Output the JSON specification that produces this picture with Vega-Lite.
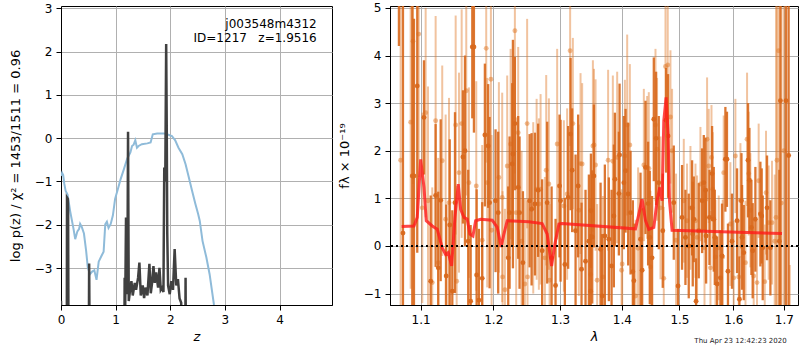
{
"$schema": "https://vega.github.io/schema/vega-lite/v6.json",
"background": "white",
"padding": {"left": 8, "top": 1, "right": 0, "bottom": 0},
"bounds": "flush",
"spacing": 58,
"config": {
  "font": "DejaVu Sans",
  "view": {"stroke": "black", "strokeWidth": 1},
  "axis": {"labelFont": "DejaVu Sans", "labelFontSize": 12, "labelColor": "black", "titleFont": "DejaVu Sans", "titleFontSize": 13, "titleFontWeight": "normal", "titleColor": "black", "domainColor": "black", "tickColor": "black", "tickSize": 5, "labelPadding": 4, "grid": true, "gridColor": "#b0b0b0", "gridWidth": 1, "labelFlush": false, "labelOverlap": false, "zindex": 1}
},
"datasets": {
  "blue": [
    {"z":0,"y":-0.87},{"z":0.02,"y":-0.8},{"z":0.04,"y":-0.85},{"z":0.06,"y":-1.05},{"z":0.085,"y":-1.22},{"z":0.12,"y":-1.3},{"z":0.17,"y":-1.7},{"z":0.23,"y":-2.1},{"z":0.26,"y":-2.33},{"z":0.3,"y":-2.15},{"z":0.33,"y":-2.1},{"z":0.35,"y":-1.98},{"z":0.38,"y":-2.05},{"z":0.42,"y":-2.2},{"z":0.46,"y":-2.6},{"z":0.49,"y":-2.98},{"z":0.53,"y":-3.14},{"z":0.57,"y":-3.08},{"z":0.61,"y":-3.05},{"z":0.65,"y":-3.27},{"z":0.69,"y":-2.85},{"z":0.74,"y":-2.72},{"z":0.78,"y":-2.62},{"z":0.81,"y":-1.99},{"z":0.84,"y":-1.93},{"z":0.87,"y":-2.07},{"z":0.91,"y":-1.98},{"z":0.95,"y":-1.78},{"z":0.99,"y":-1.4},{"z":1.04,"y":-1.18},{"z":1.09,"y":-0.95},{"z":1.15,"y":-0.72},{"z":1.21,"y":-0.48},{"z":1.27,"y":-0.33},{"z":1.3,"y":-0.18},{"z":1.33,"y":-0.15},{"z":1.36,"y":-0.05},{"z":1.39,"y":-0.22},{"z":1.42,"y":-0.18},{"z":1.48,"y":-0.14},{"z":1.58,"y":-0.12},{"z":1.64,"y":-0.1},{"z":1.68,"y":0.09},{"z":1.76,"y":0.11},{"z":1.88,"y":0.11},{"z":1.94,"y":0.09},{"z":2.03,"y":0.05},{"z":2.09,"y":-0.05},{"z":2.15,"y":-0.22},{"z":2.22,"y":-0.37},{"z":2.28,"y":-0.6},{"z":2.34,"y":-0.91},{"z":2.4,"y":-1.22},{"z":2.46,"y":-1.52},{"z":2.51,"y":-1.75},{"z":2.54,"y":-1.91},{"z":2.59,"y":-2.37},{"z":2.66,"y":-2.75},{"z":2.72,"y":-3.14},{"z":2.8,"y":-3.85},{"z":2.9,"y":-4.6}
  ],
  "dark": [
    {"z":0,"y":-3.75},{"z":0.015,"y":-6},{"z":0.105,"y":-6},{"z":0.11,"y":-1.37},{"z":0.125,"y":-1.4},{"z":0.13,"y":-1.6},{"z":0.14,"y":-6},{"z":0.505,"y":-6},{"z":0.515,"y":-2.89},{"z":0.53,"y":-6},{"z":1.155,"y":-6},{"z":1.165,"y":-3.22},{"z":1.175,"y":-3.9},{"z":1.19,"y":-1.83},{"z":1.2,"y":-3.6},{"z":1.215,"y":-3.4},{"z":1.227,"y":0.15},{"z":1.24,"y":-3.76},{"z":1.265,"y":-3.5},{"z":1.289,"y":-3.3},{"z":1.313,"y":-3.63},{"z":1.35,"y":-3.34},{"z":1.374,"y":-3.5},{"z":1.411,"y":-3.22},{"z":1.435,"y":-2.87},{"z":1.46,"y":-3.63},{"z":1.496,"y":-3.4},{"z":1.521,"y":-3.69},{"z":1.545,"y":-3.45},{"z":1.582,"y":-3.63},{"z":1.618,"y":-2.9},{"z":1.643,"y":-3.58},{"z":1.667,"y":-3.34},{"z":1.692,"y":-2.95},{"z":1.716,"y":-3.34},{"z":1.741,"y":-3.1},{"z":1.777,"y":-3.45},{"z":1.802,"y":-2.99},{"z":1.826,"y":-3.5},{"z":1.85,"y":-3.45},{"z":1.875,"y":-3.55},{"z":1.89,"y":-0.68},{"z":1.9,"y":-1.0},{"z":1.91,"y":-0.7},{"z":1.925,"y":2.17},{"z":1.935,"y":0.3},{"z":1.945,"y":-2.2},{"z":1.96,"y":-3.4},{"z":1.99,"y":-3.6},{"z":2.02,"y":-3.3},{"z":2.05,"y":-3.5},{"z":2.08,"y":-2.56},{"z":2.11,"y":-3.4},{"z":2.14,"y":-3.25},{"z":2.17,"y":-3.7},{"z":2.2,"y":-3.8},{"z":2.215,"y":-6},{"z":2.27,"y":-6},{"z":2.28,"y":-3.22},{"z":2.29,"y":-6},{"z":4.96,"y":-6}
  ],
  "dk": [
    {"x":1.0717,"y":6.5,"lo":4.2,"hi":8.8},{"x":1.0769,"y":0.27,"lo":-4.53,"hi":5.07},{"x":1.089,"y":1.47,"lo":-2.33,"hi":5.27},{"x":1.0912,"y":1.47,"lo":-1.83,"hi":4.77},{"x":1.0955,"y":3.36,"lo":-0.14,"hi":6.86},{"x":1.1044,"y":2.7,"lo":1.5,"hi":3.9},{"x":1.1133,"y":-0.74,"lo":-2.54,"hi":1.06},{"x":1.1199,"y":1.06,"lo":-0.44,"hi":2.56},{"x":1.1234,"y":-0.46,"lo":-2.06,"hi":1.14},{"x":1.1267,"y":0.96,"lo":-0.74,"hi":2.66},{"x":1.1342,"y":-0.63,"lo":-2.13,"hi":0.87},{"x":1.139,"y":0.44,"lo":-1.36,"hi":2.24},{"x":1.1425,"y":-0.95,"lo":-2.65,"hi":0.75},{"x":1.1462,"y":0.91,"lo":-0.99,"hi":2.81},{"x":1.1572,"y":1.87,"lo":0.47,"hi":3.27},{"x":1.16,"y":2.0,"lo":0,"hi":4.0},{"x":1.1645,"y":0.1,"lo":-1.4,"hi":1.6},{"x":1.1679,"y":-1.16,"lo":-2.76,"hi":0.44},{"x":1.1702,"y":4.18,"lo":2.68,"hi":5.68},{"x":1.1725,"y":4.18,"lo":2.38,"hi":5.98},{"x":1.1763,"y":-0.61,"lo":-2.41,"hi":1.19},{"x":1.1795,"y":-1.14,"lo":-2.64,"hi":0.36},{"x":1.1842,"y":-0.68,"lo":-2.28,"hi":0.92},{"x":1.188,"y":2.33,"lo":0.83,"hi":3.83},{"x":1.1927,"y":2.1,"lo":0.8,"hi":3.4},{"x":1.1947,"y":0.91,"lo":-0.89,"hi":2.71},{"x":1.2033,"y":0.95,"lo":-0.55,"hi":2.45},{"x":1.2071,"y":0.7,"lo":-1.0,"hi":2.4},{"x":1.2217,"y":-0.25,"lo":-1.75,"hi":1.25},{"x":1.2237,"y":0.7,"lo":-0.9,"hi":2.3},{"x":1.2276,"y":1.72,"lo":0.02,"hi":3.42},{"x":1.2286,"y":1.93,"lo":-0.47,"hi":4.33},{"x":1.2315,"y":2.57,"lo":1.17,"hi":3.97},{"x":1.2364,"y":1.23,"lo":-0.27,"hi":2.73},{"x":1.2384,"y":0.7,"lo":-0.9,"hi":2.3},{"x":1.2434,"y":-0.35,"lo":-1.85,"hi":1.15},{"x":1.2534,"y":0.95,"lo":-0.45,"hi":2.35},{"x":1.2564,"y":0.77,"lo":-0.83,"hi":2.37},{"x":1.2614,"y":0.88,"lo":-0.62,"hi":2.38},{"x":1.2663,"y":1.17,"lo":-0.23,"hi":2.57},{"x":1.2724,"y":-0.1,"lo":-1.6,"hi":1.4},{"x":1.2801,"y":0.91,"lo":-0.79,"hi":2.61},{"x":1.2869,"y":-0.25,"lo":-1.75,"hi":1.25},{"x":1.293,"y":-0.83,"lo":-2.23,"hi":0.57},{"x":1.2992,"y":1.26,"lo":-0.24,"hi":2.76},{"x":1.3008,"y":0.95,"lo":-0.75,"hi":2.65},{"x":1.3075,"y":-0.39,"lo":-1.79,"hi":1.01},{"x":1.3127,"y":1.02,"lo":-0.48,"hi":2.52},{"x":1.3165,"y":2.35,"lo":0.75,"hi":3.95},{"x":1.319,"y":1.59,"lo":0.29,"hi":2.89},{"x":1.3244,"y":0.32,"lo":-1.28,"hi":1.92},{"x":1.3285,"y":1.26,"lo":-0.24,"hi":2.76},{"x":1.3339,"y":-0.49,"lo":-1.89,"hi":0.91},{"x":1.3403,"y":-0.32,"lo":-1.82,"hi":1.18},{"x":1.3457,"y":0.1,"lo":-1.3,"hi":1.5},{"x":1.3485,"y":-0.95,"lo":-2.15,"hi":0.25},{"x":1.349,"y":0.74,"lo":-0.46,"hi":1.94},{"x":1.3511,"y":0.19,"lo":-1.21,"hi":1.59},{"x":1.3538,"y":1.47,"lo":-0.03,"hi":2.97},{"x":1.3647,"y":-0.07,"lo":-1.47,"hi":1.33},{"x":1.3673,"y":-1.05,"lo":-2.35,"hi":0.25},{"x":1.3717,"y":0.21,"lo":-1.29,"hi":1.71},{"x":1.3783,"y":0.14,"lo":-1.16,"hi":1.44},{"x":1.3828,"y":-0.42,"lo":-2.02,"hi":1.18},{"x":1.3866,"y":0.63,"lo":-0.87,"hi":2.13},{"x":1.3883,"y":1.4,"lo":0.0,"hi":2.8},{"x":1.3949,"y":1.1,"lo":-0.2,"hi":2.4},{"x":1.3961,"y":1.91,"lo":0.41,"hi":3.41},{"x":1.4033,"y":1.33,"lo":-0.07,"hi":2.73},{"x":1.4062,"y":1.58,"lo":0.28,"hi":2.88},{"x":1.4106,"y":1.09,"lo":-0.41,"hi":2.59},{"x":1.4146,"y":0.7,"lo":-0.6,"hi":2.0},{"x":1.4185,"y":-0.54,"lo":-2.04,"hi":0.96},{"x":1.4202,"y":-0.73,"lo":-1.93,"hi":0.47},{"x":1.4316,"y":0.14,"lo":-1.26,"hi":1.54},{"x":1.4344,"y":-0.51,"lo":-1.81,"hi":0.79},{"x":1.4402,"y":1.65,"lo":0.25,"hi":3.05},{"x":1.4447,"y":0.89,"lo":-0.41,"hi":2.19},{"x":1.4476,"y":0.18,"lo":-1.22,"hi":1.58},{"x":1.4516,"y":-0.25,"lo":-1.55,"hi":1.05},{"x":1.4546,"y":2.66,"lo":1.36,"hi":3.96},{"x":1.4586,"y":2.26,"lo":0.86,"hi":3.66},{"x":1.4633,"y":1.33,"lo":-0.07,"hi":2.73},{"x":1.4703,"y":0.32,"lo":-0.88,"hi":1.52},{"x":1.4762,"y":2.64,"lo":1.54,"hi":3.74},{"x":1.4797,"y":2.31,"lo":1.01,"hi":3.61},{"x":1.4898,"y":0.91,"lo":-0.29,"hi":2.11},{"x":1.4975,"y":-0.84,"lo":-2.04,"hi":0.36},{"x":1.5047,"y":0.6,"lo":-0.5,"hi":1.7},{"x":1.5108,"y":0.18,"lo":-0.82,"hi":1.18},{"x":1.5168,"y":0.0,"lo":-1.1,"hi":1.1},{"x":1.5229,"y":0.8,"lo":-0.2,"hi":1.8},{"x":1.5241,"y":0.25,"lo":-0.85,"hi":1.35},{"x":1.526,"y":0.56,"lo":-0.34,"hi":1.46},{"x":1.5302,"y":-1.16,"lo":-2.06,"hi":-0.26},{"x":1.5351,"y":0.32,"lo":-0.68,"hi":1.32},{"x":1.5413,"y":0.95,"lo":-0.15,"hi":2.05},{"x":1.5444,"y":1.33,"lo":0.33,"hi":2.33},{"x":1.5476,"y":1.17,"lo":0.07,"hi":2.27},{"x":1.5487,"y":0.21,"lo":-0.79,"hi":1.21},{"x":1.5549,"y":0.6,"lo":-0.4,"hi":1.6},{"x":1.5598,"y":1.52,"lo":0.52,"hi":2.52},{"x":1.563,"y":0.56,"lo":-0.54,"hi":1.66},{"x":1.5649,"y":0.18,"lo":-0.82,"hi":1.18},{"x":1.5692,"y":-0.8,"lo":-1.8,"hi":0.2},{"x":1.5755,"y":-0.67,"lo":-1.67,"hi":0.33},{"x":1.5785,"y":-0.21,"lo":-1.31,"hi":0.89},{"x":1.5849,"y":1.82,"lo":0.72,"hi":2.92},{"x":1.5879,"y":1.82,"lo":0.82,"hi":2.82},{"x":1.5898,"y":-0.53,"lo":-1.53,"hi":0.47},{"x":1.5975,"y":0.1,"lo":-0.9,"hi":1.1},{"x":1.6072,"y":0.53,"lo":-0.57,"hi":1.63},{"x":1.6118,"y":-1.12,"lo":-2.02,"hi":-0.22},{"x":1.6157,"y":0.95,"lo":-0.05,"hi":1.95},{"x":1.6169,"y":0.18,"lo":-0.92,"hi":1.28},{"x":1.6202,"y":-0.14,"lo":-1.14,"hi":0.86},{"x":1.6285,"y":1.8,"lo":0.6,"hi":3.0},{"x":1.6312,"y":1.38,"lo":0.28,"hi":2.48},{"x":1.6351,"y":0.39,"lo":-0.61,"hi":1.39},{"x":1.6376,"y":-0.1,"lo":-1.1,"hi":0.9},{"x":1.6429,"y":0.56,"lo":-0.54,"hi":1.66},{"x":1.6528,"y":0.67,"lo":-0.43,"hi":1.77},{"x":1.6554,"y":0.63,"lo":-0.37,"hi":1.63},{"x":1.6574,"y":-0.04,"lo":-1.14,"hi":1.06},{"x":1.666,"y":0.8,"lo":-0.3,"hi":1.9},{"x":1.6727,"y":-0.04,"lo":-1.04,"hi":0.96},{"x":1.6908,"y":0.1,"lo":-1.4,"hi":1.6},{"x":1.6929,"y":3.05,"lo":-1.45,"hi":7.55},{"x":1.7043,"y":3.05,"lo":-1.45,"hi":7.55},{"x":1.7097,"y":1.9,"lo":-2.1,"hi":5.9}
  ],
  "lt": [
    {"x":1.0739,"y":1.8,"lo":-2.2,"hi":5.8},{"x":1.0869,"y":2.6,"lo":-0.9,"hi":6.1},{"x":1.0899,"y":4.3,"lo":1.3,"hi":7.3},{"x":1.0974,"y":4.45,"lo":1.45,"hi":7.45},{"x":1.1021,"y":0.8,"lo":-1.2,"hi":2.8},{"x":1.1066,"y":2.8,"lo":0.6,"hi":5.0},{"x":1.1097,"y":0.95,"lo":-1.45,"hi":3.35},{"x":1.1154,"y":-0.77,"lo":-2.77,"hi":1.23},{"x":1.1199,"y":2.63,"lo":0.43,"hi":4.83},{"x":1.1234,"y":-0.35,"lo":-2.55,"hi":1.85},{"x":1.1288,"y":1.79,"lo":-0.21,"hi":3.79},{"x":1.1334,"y":0.56,"lo":-1.64,"hi":2.76},{"x":1.138,"y":0.91,"lo":-1.29,"hi":3.11},{"x":1.1471,"y":2.54,"lo":0.24,"hi":4.84},{"x":1.1485,"y":-0.74,"lo":-2.74,"hi":1.26},{"x":1.1517,"y":1.54,"lo":-0.56,"hi":3.64},{"x":1.1554,"y":2.57,"lo":0.17,"hi":4.97},{"x":1.1618,"y":3.26,"lo":1.06,"hi":5.46},{"x":1.1655,"y":1.33,"lo":-0.67,"hi":3.33},{"x":1.1758,"y":1.26,"lo":-0.94,"hi":3.46},{"x":1.1842,"y":0.12,"lo":-1.88,"hi":2.12},{"x":1.1899,"y":4.15,"lo":1.75,"hi":6.55},{"x":1.1913,"y":1.33,"lo":-0.87,"hi":3.53},{"x":1.1966,"y":3.5,"lo":1.0,"hi":6.0},{"x":1.1976,"y":0.33,"lo":-1.67,"hi":2.33},{"x":1.2081,"y":1.44,"lo":-0.56,"hi":3.44},{"x":1.2129,"y":1.02,"lo":-1.18,"hi":3.22},{"x":1.2135,"y":-0.65,"lo":-2.45,"hi":1.15},{"x":1.2169,"y":-0.92,"lo":-2.62,"hi":0.78},{"x":1.2202,"y":1.68,"lo":-0.22,"hi":3.58},{"x":1.2252,"y":2.14,"lo":0.14,"hi":4.14},{"x":1.2315,"y":4.52,"lo":1.52,"hi":7.52},{"x":1.2334,"y":0.7,"lo":-1.3,"hi":2.7},{"x":1.2364,"y":2.38,"lo":0.58,"hi":4.18},{"x":1.2414,"y":0.1,"lo":-1.8,"hi":2.0},{"x":1.2463,"y":-0.8,"lo":-2.6,"hi":1.0},{"x":1.2497,"y":2.57,"lo":0.37,"hi":4.77},{"x":1.2503,"y":-0.65,"lo":-2.25,"hi":0.95},{"x":1.2589,"y":0.8,"lo":-1.0,"hi":2.6},{"x":1.264,"y":1.19,"lo":-0.71,"hi":3.09},{"x":1.2674,"y":0.88,"lo":-0.92,"hi":2.68},{"x":1.27,"y":1.19,"lo":-0.81,"hi":3.19},{"x":1.2766,"y":-0.25,"lo":-1.95,"hi":1.45},{"x":1.2786,"y":1.59,"lo":-0.41,"hi":3.59},{"x":1.2827,"y":1.3,"lo":-0.5,"hi":3.1},{"x":1.2838,"y":-0.72,"lo":-2.32,"hi":0.88},{"x":1.2955,"y":2.14,"lo":0.14,"hi":4.14},{"x":1.306,"y":0.84,"lo":-0.96,"hi":2.64},{"x":1.3111,"y":1.09,"lo":-0.71,"hi":2.89},{"x":1.3158,"y":4.1,"lo":2.1,"hi":6.1},{"x":1.3201,"y":2.57,"lo":0.77,"hi":4.37},{"x":1.3296,"y":0.75,"lo":-1.05,"hi":2.55},{"x":1.3323,"y":1.73,"lo":-0.17,"hi":3.63},{"x":1.3349,"y":1.72,"lo":0.02,"hi":3.42},{"x":1.3485,"y":-0.6,"lo":-2.2,"hi":1.0},{"x":1.3522,"y":2.1,"lo":0.3,"hi":3.9},{"x":1.354,"y":2.12,"lo":0.52,"hi":3.72},{"x":1.3565,"y":1.7,"lo":-0.1,"hi":3.5},{"x":1.3591,"y":-0.72,"lo":-2.32,"hi":0.88},{"x":1.3684,"y":-0.65,"lo":-2.35,"hi":1.05},{"x":1.3771,"y":1.8,"lo":-0.1,"hi":3.7},{"x":1.3849,"y":1.78,"lo":-0.02,"hi":3.58},{"x":1.3921,"y":1.86,"lo":0.06,"hi":3.66},{"x":1.3995,"y":-0.51,"lo":-2.21,"hi":1.19},{"x":1.4005,"y":-0.38,"lo":-1.88,"hi":1.12},{"x":1.405,"y":1.89,"lo":0.29,"hi":3.49},{"x":1.4089,"y":2.54,"lo":0.64,"hi":4.44},{"x":1.4134,"y":2.12,"lo":0.42,"hi":3.82},{"x":1.4231,"y":-1.05,"lo":-2.65,"hi":0.55},{"x":1.4275,"y":-0.05,"lo":-1.75,"hi":1.65},{"x":1.4373,"y":1.7,"lo":0.1,"hi":3.3},{"x":1.443,"y":1.65,"lo":0.15,"hi":3.15},{"x":1.4459,"y":1.63,"lo":0.03,"hi":3.23},{"x":1.4488,"y":-0.44,"lo":-2.04,"hi":1.16},{"x":1.4575,"y":2.54,"lo":0.94,"hi":4.14},{"x":1.4603,"y":2.03,"lo":0.53,"hi":3.53},{"x":1.4663,"y":0.8,"lo":-0.7,"hi":2.3},{"x":1.4721,"y":-0.68,"lo":-2.18,"hi":0.82},{"x":1.4751,"y":3.77,"lo":2.47,"hi":5.07},{"x":1.4791,"y":3.8,"lo":2.2,"hi":5.4},{"x":1.4839,"y":2.71,"lo":1.31,"hi":4.11},{"x":1.4868,"y":2.0,"lo":0.7,"hi":3.3},{"x":1.4939,"y":0.12,"lo":-1.28,"hi":1.52},{"x":1.5078,"y":0.95,"lo":-0.35,"hi":2.25},{"x":1.5137,"y":0.53,"lo":-0.67,"hi":1.73},{"x":1.5199,"y":0.8,"lo":-0.5,"hi":2.1},{"x":1.5291,"y":0.53,"lo":-0.67,"hi":1.73},{"x":1.532,"y":0.18,"lo":-1.12,"hi":1.48},{"x":1.5382,"y":1.3,"lo":0.1,"hi":2.5},{"x":1.5457,"y":-0.04,"lo":-1.34,"hi":1.26},{"x":1.5505,"y":2.24,"lo":0.94,"hi":3.54},{"x":1.5536,"y":1.68,"lo":0.48,"hi":2.88},{"x":1.5568,"y":-0.46,"lo":-1.66,"hi":0.74},{"x":1.5587,"y":1.86,"lo":0.76,"hi":2.96},{"x":1.5611,"y":1.19,"lo":-0.01,"hi":2.39},{"x":1.5662,"y":-0.23,"lo":-1.43,"hi":0.97},{"x":1.5723,"y":-0.04,"lo":-1.14,"hi":1.06},{"x":1.5798,"y":-0.23,"lo":-1.43,"hi":0.97},{"x":1.5817,"y":1.54,"lo":0.34,"hi":2.74},{"x":1.5944,"y":0.46,"lo":-0.84,"hi":1.76},{"x":1.6008,"y":-0.67,"lo":-1.87,"hi":0.53},{"x":1.604,"y":1.89,"lo":0.69,"hi":3.09},{"x":1.6104,"y":-0.65,"lo":-1.85,"hi":0.55},{"x":1.6137,"y":0.96,"lo":-0.24,"hi":2.16},{"x":1.6235,"y":-0.35,"lo":-1.65,"hi":0.95},{"x":1.6266,"y":2.24,"lo":0.84,"hi":3.64},{"x":1.6298,"y":1.52,"lo":0.22,"hi":2.82},{"x":1.6331,"y":0.75,"lo":-0.45,"hi":1.95},{"x":1.6396,"y":-0.63,"lo":-1.83,"hi":0.57},{"x":1.6461,"y":-0.77,"lo":-2.07,"hi":0.53},{"x":1.6494,"y":1.37,"lo":0.17,"hi":2.57},{"x":1.6614,"y":-0.75,"lo":-1.95,"hi":0.45},{"x":1.664,"y":1.12,"lo":-0.18,"hi":2.42},{"x":1.6693,"y":0.49,"lo":-0.71,"hi":1.69},{"x":1.676,"y":0.49,"lo":-0.81,"hi":1.79},{"x":1.6814,"y":0.1,"lo":-1.3,"hi":1.5},{"x":1.684,"y":0.6,"lo":-3.9,"hi":5.1},{"x":1.686,"y":1.8,"lo":-2.7,"hi":6.3},{"x":1.6894,"y":4.1,"lo":0.1,"hi":8.1},{"x":1.695,"y":0.9,"lo":-3.6,"hi":5.4},{"x":1.7,"y":2.0,"lo":-2.5,"hi":6.5},{"x":1.712,"y":-1.8,"lo":-3.2,"hi":-0.4}
  ],
  "model": [
    {"x":1.0752,"y":0.41},{"x":1.0912,"y":0.42},{"x":1.0955,"y":0.6},{"x":1.1,"y":1.82},{"x":1.1044,"y":1.23},{"x":1.1074,"y":0.53},{"x":1.1154,"y":0.42},{"x":1.1221,"y":0.35},{"x":1.1288,"y":-0.04},{"x":1.1334,"y":-0.18},{"x":1.137,"y":-0.14},{"x":1.1416,"y":-0.42},{"x":1.1461,"y":0.6},{"x":1.1507,"y":1.3},{"x":1.154,"y":0.77},{"x":1.1586,"y":0.6},{"x":1.1631,"y":0.56},{"x":1.1669,"y":0.25},{"x":1.1711,"y":0.21},{"x":1.1749,"y":0.53},{"x":1.182,"y":0.56},{"x":1.1985,"y":0.54},{"x":1.2057,"y":0.39},{"x":1.2115,"y":-0.02},{"x":1.2154,"y":0.25},{"x":1.2202,"y":0.53},{"x":1.2523,"y":0.51},{"x":1.2724,"y":0.47},{"x":1.2801,"y":0.25},{"x":1.2869,"y":-0.42},{"x":1.292,"y":0.04},{"x":1.2982,"y":0.46},{"x":1.3033,"y":0.47},{"x":1.423,"y":0.36},{"x":1.4287,"y":0.67},{"x":1.4343,"y":0.98},{"x":1.4402,"y":0.53},{"x":1.4459,"y":0.35},{"x":1.4546,"y":0.39},{"x":1.4603,"y":0.95},{"x":1.4651,"y":1.23},{"x":1.4691,"y":0.95},{"x":1.4721,"y":2.63},{"x":1.4762,"y":3.12},{"x":1.4797,"y":2.35},{"x":1.4822,"y":0.95},{"x":1.4868,"y":0.33},{"x":1.6962,"y":0.26}
  ]
},
"hconcat": [
  {
    "width": 271, "height": 299,
    "layer": [
      {"data": {"name": "blue"}, "mark": {"type": "line", "color": "#8fbbd9", "strokeWidth": 2, "clip": true},
       "encoding": {
         "x": {"field": "z", "type": "quantitative", "scale": {"domain": [0, 4.96], "nice": false, "zero": false}, "axis": {"values": [0, 1, 2, 3, 4], "title": "z", "titleFontStyle": "italic", "titlePadding": 5}},
         "y": {"field": "y", "type": "quantitative", "scale": {"domain": [-3.85, 3.05], "nice": false, "zero": false}, "axis": {"values": [-3, -2, -1, 0, 1, 2, 3], "title": "log p(z) / χ² = 1453/1511 = 0.96", "titlePadding": 12}}
       }},
      {"data": {"name": "dark"}, "mark": {"type": "line", "color": "#404040", "strokeWidth": 2.5, "clip": true},
       "encoding": {
         "x": {"field": "z", "type": "quantitative", "scale": {"domain": [0, 4.96], "nice": false, "zero": false}},
         "y": {"field": "y", "type": "quantitative", "scale": {"domain": [-3.85, 3.05], "nice": false, "zero": false}}
       }},
      {"data": {"values": [{"z": 4.68, "y": 2.55, "t": "j003548m4312"}, {"z": 4.68, "y": 2.22, "t": "ID=1217\u00a0\u00a0\u00a0z=1.9516"}]},
       "mark": {"type": "text", "align": "right", "baseline": "alphabetic", "fontSize": 12, "color": "black"},
       "encoding": {
         "x": {"field": "z", "type": "quantitative", "scale": {"domain": [0, 4.96], "nice": false, "zero": false}},
         "y": {"field": "y", "type": "quantitative", "scale": {"domain": [-3.85, 3.05], "nice": false, "zero": false}},
         "text": {"field": "t"}
       }}
    ]
  },
  {
    "width": 408, "height": 299,
    "layer": [
      {"data": {"name": "lt"}, "mark": {"type": "rule", "color": "#e07a2a", "opacity": 0.45, "strokeWidth": 2, "clip": true},
       "encoding": {
         "x": {"field": "x", "type": "quantitative", "scale": {"type": "log", "domain": [1.0603, 1.729], "nice": false}, "axis": {"values": [1.1, 1.2, 1.3, 1.4, 1.5, 1.6, 1.7], "format": ".1f", "title": "λ", "titleFontStyle": "italic", "titlePadding": 5}},
         "y": {"field": "lo", "type": "quantitative", "scale": {"domain": [-1.24, 5.04], "nice": false, "zero": false}, "axis": {"values": [-1, 0, 1, 2, 3, 4, 5], "format": "d", "title": "fλ × 10⁻¹⁹", "titlePadding": 12}},
         "y2": {"field": "hi"}
       }},
      {"data": {"name": "lt"}, "mark": {"type": "point", "filled": true, "color": "#e07a2a", "opacity": 0.5, "size": 24, "clip": true},
       "encoding": {
         "x": {"field": "x", "type": "quantitative", "scale": {"type": "log", "domain": [1.0603, 1.729], "nice": false}},
         "y": {"field": "y", "type": "quantitative", "scale": {"domain": [-1.24, 5.04], "nice": false, "zero": false}}
       }},
      {"data": {"name": "dk"}, "mark": {"type": "rule", "color": "#d8681c", "opacity": 0.9, "strokeWidth": 2.3, "clip": true},
       "encoding": {
         "x": {"field": "x", "type": "quantitative", "scale": {"type": "log", "domain": [1.0603, 1.729], "nice": false}},
         "y": {"field": "lo", "type": "quantitative", "scale": {"domain": [-1.24, 5.04], "nice": false, "zero": false}},
         "y2": {"field": "hi"}
       }},
      {"data": {"name": "dk"}, "mark": {"type": "point", "filled": true, "color": "#d8681c", "opacity": 0.95, "size": 24, "clip": true},
       "encoding": {
         "x": {"field": "x", "type": "quantitative", "scale": {"type": "log", "domain": [1.0603, 1.729], "nice": false}},
         "y": {"field": "y", "type": "quantitative", "scale": {"domain": [-1.24, 5.04], "nice": false, "zero": false}}
       }},
      {"data": {"name": "model"}, "mark": {"type": "line", "color": "#ff1a1a", "opacity": 0.8, "strokeWidth": 3, "clip": true},
       "encoding": {
         "x": {"field": "x", "type": "quantitative", "scale": {"type": "log", "domain": [1.0603, 1.729], "nice": false}},
         "y": {"field": "y", "type": "quantitative", "scale": {"domain": [-1.24, 5.04], "nice": false, "zero": false}}
       }},
      {"data": {"values": [{"v": 0}]}, "mark": {"type": "rule", "color": "black", "strokeWidth": 2, "strokeDash": [2, 3]},
       "encoding": {
         "y": {"field": "v", "type": "quantitative", "scale": {"domain": [-1.24, 5.04], "nice": false, "zero": false}}
       }},
      {"data": {"values": [{"x": 1.7057, "y": -2.04, "t": "Thu Apr 23 12:42:23 2020"}]},
       "mark": {"type": "text", "align": "right", "baseline": "alphabetic", "fontSize": 7, "color": "#222222"},
       "encoding": {
         "x": {"field": "x", "type": "quantitative", "scale": {"type": "log", "domain": [1.0603, 1.729], "nice": false}},
         "y": {"field": "y", "type": "quantitative", "scale": {"domain": [-1.24, 5.04], "nice": false, "zero": false}},
         "text": {"field": "t"}
       }}
    ]
  }
]
}
